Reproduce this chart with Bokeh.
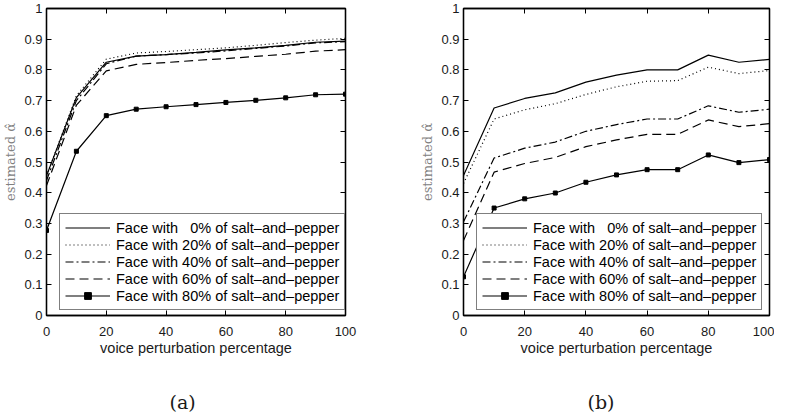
from bokeh.plotting import figure
from bokeh.layouts import row
from bokeh.models import (LinearAxis, FixedTicker, CustomJSTickFormatter, Legend,
                          LegendItem, Title, Range1d)
from bokeh.embed import file_html
from bokeh.resources import INLINE

# ---------------- data ----------------
x_vals = [0, 10, 20, 30, 40, 50, 60, 70, 80, 90, 100]
x_ticks = [0, 20, 40, 60, 80, 100]
y_ticks = [0, 0.1, 0.2, 0.3, 0.4, 0.5, 0.6, 0.7, 0.8, 0.9, 1.0]

series_labels = [
    "Face with \u20070% of salt\u2013and\u2013pepper",
    "Face with 20% of salt\u2013and\u2013pepper",
    "Face with 40% of salt\u2013and\u2013pepper",
    "Face with 60% of salt\u2013and\u2013pepper",
    "Face with 80% of salt\u2013and\u2013pepper",
]

# panel (a)
a_0 = [0.455, 0.710, 0.825, 0.845, 0.850, 0.857, 0.865, 0.872, 0.880, 0.890, 0.894]
a_20 = [0.455, 0.716, 0.835, 0.855, 0.860, 0.866, 0.872, 0.880, 0.889, 0.897, 0.903]
a_40 = [0.440, 0.700, 0.820, 0.845, 0.850, 0.855, 0.862, 0.870, 0.878, 0.888, 0.892]
a_60 = [0.423, 0.685, 0.797, 0.818, 0.824, 0.831, 0.837, 0.844, 0.851, 0.861, 0.866]
a_80 = [0.277, 0.535, 0.651, 0.672, 0.680, 0.687, 0.694, 0.701, 0.709, 0.719, 0.721]

# panel (b)
b_0 = [0.456, 0.676, 0.707, 0.725, 0.760, 0.783, 0.800, 0.800, 0.848, 0.825, 0.834]
b_20 = [0.430, 0.640, 0.670, 0.690, 0.720, 0.745, 0.763, 0.765, 0.809, 0.788, 0.798]
b_40 = [0.305, 0.513, 0.545, 0.565, 0.600, 0.622, 0.640, 0.640, 0.683, 0.662, 0.672]
b_60 = [0.244, 0.467, 0.495, 0.515, 0.550, 0.572, 0.590, 0.590, 0.637, 0.615, 0.625]
b_80 = [0.126, 0.350, 0.380, 0.399, 0.434, 0.458, 0.475, 0.475, 0.523, 0.498, 0.508]

panel_names = ["(a)", "(b)"]

dashes = ["solid", "1 3", "8 3 2 3", "9 5", "solid"]

SANS = "Liberation Sans"
SERIF = "DejaVu Serif"


def make_panel(series, name, width, bl, br, name_offset):
    p = figure(width=width, height=414, output_backend="svg", toolbar_location=None,
               x_range=Range1d(0, 100), y_range=Range1d(0, 1),
               min_border_left=bl, min_border_right=br, min_border_top=8,
               min_border_bottom=99)
    p.grid.visible = False
    p.outline_line_color = "black"
    p.outline_line_width = 1.3
    p.background_fill_color = "white"
    p.border_fill_color = "white"

    for ax in (p.xaxis[0], p.yaxis[0]):
        ax.major_tick_in = 5
        ax.major_tick_out = 0
        ax.minor_tick_in = 0
        ax.minor_tick_out = 0
        ax.axis_line_color = "black"
        ax.axis_line_width = 1.3
        ax.major_tick_line_color = "black"
        ax.major_label_text_font = SANS
        ax.major_label_text_font_size = "13px"
        ax.major_label_text_color = "#1a1a1a"
        ax.axis_label_text_font_style = "normal"

    p.xaxis.ticker = FixedTicker(ticks=x_ticks)
    p.yaxis.ticker = FixedTicker(ticks=y_ticks)
    p.yaxis.formatter = CustomJSTickFormatter(code="return (Math.round(tick*10)/10).toString();")
    p.xaxis.major_label_standoff = 11
    p.yaxis.major_label_standoff = 4
    p.xaxis.axis_label = "voice perturbation percentage"
    p.xaxis.axis_label_text_font = SANS
    p.xaxis.axis_label_text_font_size = "14.5px"
    p.xaxis.axis_label_text_color = "#1a1a1a"
    p.xaxis.axis_label_standoff = 1
    p.yaxis.axis_label = "estimated \u03b1\u0302"
    p.yaxis.axis_label_text_font = SERIF
    p.yaxis.axis_label_text_font_size = "13px"
    p.yaxis.axis_label_text_color = "#808080"
    p.yaxis.axis_label_standoff = 3

    blank = CustomJSTickFormatter(code="return '';")
    top = LinearAxis(ticker=FixedTicker(ticks=x_ticks), formatter=blank,
                     major_label_text_font_size="1px",
                     major_label_standoff=0, major_tick_in=5, major_tick_out=0,
                     minor_tick_in=0, minor_tick_out=0, axis_line_color="black",
                     axis_line_width=1.3)
    right = LinearAxis(ticker=FixedTicker(ticks=y_ticks), formatter=blank,
                       major_label_text_font_size="1px",
                       major_label_standoff=0, major_tick_in=5, major_tick_out=0,
                       minor_tick_in=0, minor_tick_out=0, axis_line_color="black",
                       axis_line_width=1.3)
    p.add_layout(top, "above")
    p.add_layout(right, "right")

    items = []
    for i, (ys, lab) in enumerate(zip(series, series_labels)):
        r = p.line(x_vals, ys, line_color="black", line_width=1.2, line_dash=dashes[i])
        rs = [r]
        if i == 4:
            m = p.scatter(x_vals, ys, marker="square", size=4, fill_color="black",
                          line_color="black")
            rs.append(m)
        items.append(LegendItem(label=lab, renderers=rs))

    leg = Legend(items=items, location=(13, 5), margin=0, padding=5, spacing=0,
                 label_text_font=SANS, label_text_font_size="14.5px",
                 label_text_color="black", label_height=17, glyph_height=17,
                 glyph_width=45, label_standoff=6, border_line_color="black",
                 border_line_width=1.5, background_fill_color="white",
                 background_fill_alpha=1.0)
    p.add_layout(leg)

    # spacer between the x-axis label and the panel caption
    p.add_layout(Title(text=" ", text_font_size="1px", standoff=27), "below")
    p.add_layout(Title(text=name, text_font=SERIF, text_font_size="19px",
                       text_font_style="normal", text_color="#1a1a1a",
                       align="left", offset=name_offset, standoff=0), "below")
    return p


p1 = make_panel([a_0, a_20, a_40, a_60, a_80], panel_names[0], 392, 40, 47, 123)
p2 = make_panel([b_0, b_20, b_40, b_60, b_80], panel_names[1], 382, 71, 5, 124)

layout = row(p1, p2)
open("out.html", "w").write(file_html(layout, INLINE))
